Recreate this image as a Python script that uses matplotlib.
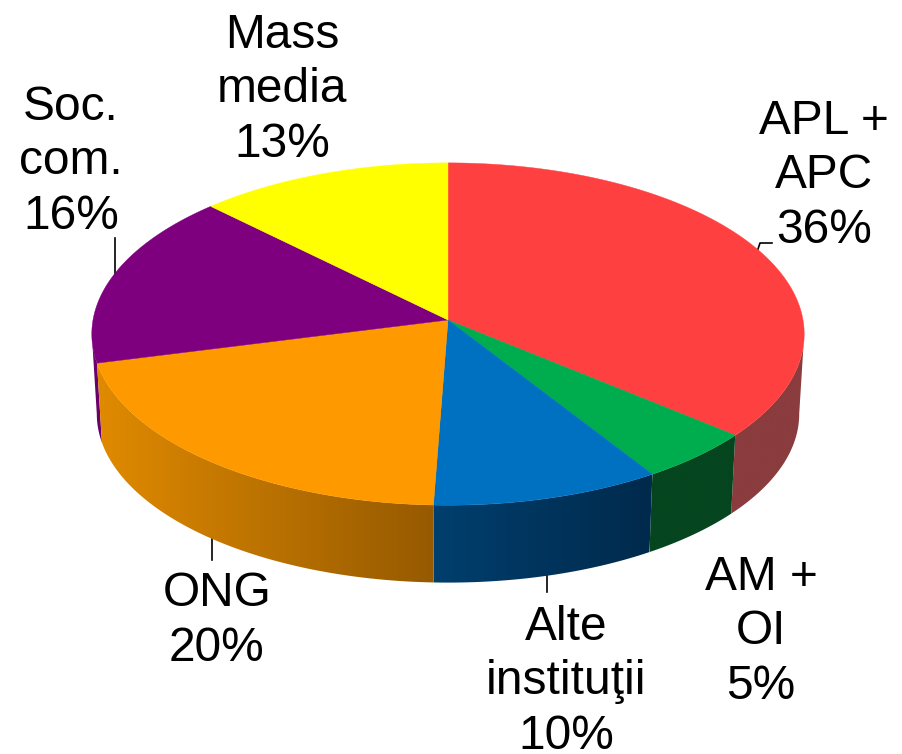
import numpy as np
import matplotlib
matplotlib.use('Agg')
import matplotlib.pyplot as plt
from matplotlib.patches import Polygon

plt.rcParams['font.family'] = ['Liberation Sans', 'DejaVu Sans']

# clockwise from 12 o'clock
names = ['APL +\nAPC\n36%', 'AM +\nOI\n5%', 'Alte\ninstituţii\n10%', 'ONG\n20%', 'Soc.\ncom.\n16%', 'Mass\nmedia\n13%']
values = [36.1, 4.9, 9.6, 20.4, 16.5, 12.5]
top_colors = ['#ff4040', '#00ad4e', '#0070c0', '#ff9900', '#7f007f', '#ffff00']
side_left = ['#8a3c3e', '#05451f', '#003f6e', '#e08a00', '#6a006a', '#d0d000']
side_right = ['#8a3c3e', '#05451f', '#002a4c', '#965a00', '#6a006a', '#d0d000']

# label centre positions in pixels
label_x = [824, 761, 566, 217, 71, 282]
label_y = [176, 632, 682, 621, 162, 90]

# pie geometry (pixels), simple perspective
cx, cy = 448, 320
a, b, k = 355, 170, 0.082
depth, shrink = 80, 0.986


def rim(theta, s=1.0, d=0.0):
    u, v = np.sin(theta), np.cos(theta)
    w = 1 + k * v
    return cx + s * a * u / w, cy - s * b * v / w + d


fig = plt.figure(figsize=(9.03, 7.54), dpi=100)
ax = fig.add_axes([0, 0, 1, 1])
ax.axis('off')

edges = np.radians(np.concatenate([[0], np.cumsum(values)]) * 3.6)

# leader lines go under the pie
ax.plot([115, 115], [238, 278], color='black', lw=1.2)
ax.plot([757, 760, 772], [252, 243, 243], color='black', lw=1.2)
ax.plot([212, 212], [530, 560], color='black', lw=1.2)
ax.plot([547, 547], [570, 592], color='black', lw=1.2)

# only the front facing part of the wall, a folded outline leaves holes in the clip
t_right = np.arccos(-k)
t_left = 2 * np.pi - t_right

# side wall, purple first so orange sits over it
for i in [4, 0, 1, 2, 3]:
    t0 = max(edges[i], t_right)
    t1 = min(edges[i + 1], t_left)
    if t1 <= t0:
        continue
    t = np.linspace(t0, t1, 300)
    x0, y0 = rim(t)
    x1, y1 = rim(t, shrink, depth)
    outline = np.c_[np.r_[x0, x1[::-1]], np.r_[y0, y1[::-1]]]
    c0 = matplotlib.colors.to_rgb(side_left[i])
    c1 = matplotlib.colors.to_rgb(side_right[i])
    grad = np.linspace(c0, c1, 256)[np.newaxis, :, :]
    left, right = outline[:, 0].min(), outline[:, 0].max()
    im = ax.imshow(grad, extent=[left, right, 600, 150], aspect='auto', interpolation='bilinear', zorder=2)
    im.set_clip_path(Polygon(outline, transform=ax.transData))

# top face
for i in range(len(values)):
    t = np.linspace(edges[i], edges[i + 1], 300)
    x, y = rim(t)
    ax.fill(np.r_[cx, x], np.r_[cy, y], color=top_colors[i], lw=0.3, zorder=3)

for i in range(len(names)):
    ax.text(label_x[i], label_y[i], names[i], ha='center', va='center', fontsize=34.5, linespacing=1.27, color='black', zorder=4)

ax.set_xlim(0, 903)
ax.set_ylim(754, 0)
fig.savefig('out.png', dpi=100)
